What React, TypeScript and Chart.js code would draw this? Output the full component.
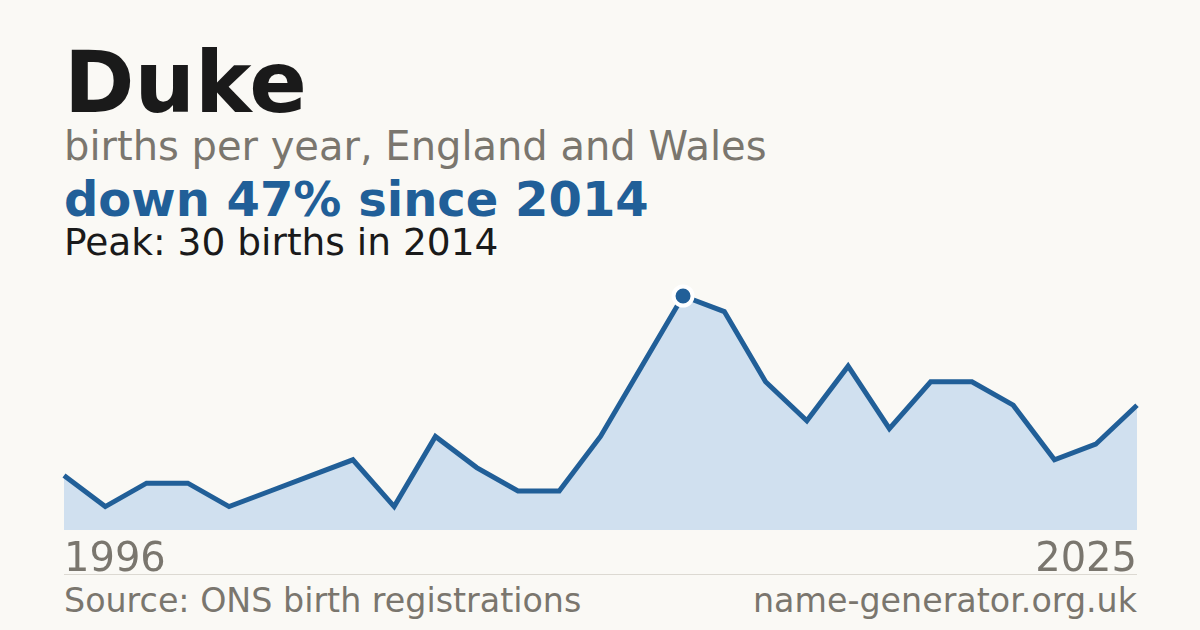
import React, { useEffect, useRef } from "react";
import { Chart, registerables } from "chart.js";

Chart.register(...registerables);

const years = [
  "1996", "1997", "1998", "1999", "2001", "2003", "2004", "2006", "2007",
  "2008", "2009", "2010", "2011", "2012", "2013", "2014", "2015", "2016",
  "2017", "2018", "2019", "2020", "2021", "2022", "2023", "2024", "2025",
];
const births = [7, 3, 6, 6, 3, 5, 7, 9, 3, 12, 8, 5, 5, 12, 21, 30, 28, 19, 14, 21, 13, 19, 19, 16, 9, 11, 16];
const peakYear = "2014";
const firstYear = "1996";
const lastYear = "2025";

const BG = "#faf9f5";
const BLUE = "#215f98";
const FILL = "#d0e0ef";
const GRAY = "#7a766e";
const FONT = "'DejaVu Sans', sans-serif";

export default function App() {
  const ref = useRef<HTMLCanvasElement | null>(null);

  useEffect(() => {
    if (!ref.current) return;
    const peakIdx = years.indexOf(peakYear);
    const chart = new Chart(ref.current, {
      type: "line",
      data: {
        labels: years,
        datasets: [
          {
            data: births,
            borderColor: BLUE,
            borderWidth: 5,
            backgroundColor: FILL,
            fill: "origin",
            tension: 0,
            clip: false as any,
            pointRadius: births.map((_, i) => (i === peakIdx ? 9.5 : 0)),
            pointHoverRadius: births.map((_, i) => (i === peakIdx ? 9.5 : 0)),
            pointBackgroundColor: BLUE,
            pointBorderColor: "#ffffff",
            pointBorderWidth: 4,
          },
        ],
      },
      options: {
        animation: false,
        responsive: false,
        maintainAspectRatio: false,
        events: [],
        layout: { padding: 12 },
        plugins: {
          legend: { display: false },
          tooltip: { enabled: false },
          title: { display: false },
        },
        scales: {
          x: { display: false, offset: false },
          y: { display: false, min: 0, max: 30 },
        },
      },
    });
    return () => chart.destroy();
  }, []);

  const base: React.CSSProperties = {
    position: "absolute",
    fontFamily: FONT,
    whiteSpace: "nowrap",
    margin: 0,
  };

  return (
    <div
      style={{
        position: "fixed",
        left: 0,
        top: 0,
        width: 1200,
        height: 630,
        background: BG,
        overflow: "hidden",
      }}
    >
      <div style={{ ...base, left: 64, top: 40, fontSize: 85, lineHeight: "85px", fontWeight: 700, color: "#1a1a1a" }}>
        Duke
      </div>
      <div style={{ ...base, left: 64, top: 126, fontSize: 40, lineHeight: "40px", color: GRAY }}>
        births per year, England and Wales
      </div>
      <div style={{ ...base, left: 64, top: 175, fontSize: 48, lineHeight: "48px", fontWeight: 700, color: BLUE }}>
        down 47% since 2014
      </div>
      <div style={{ ...base, left: 64, top: 224, fontSize: 37.5, lineHeight: "37px", color: "#1a1a1a" }}>
        Peak: 30 births in 2014
      </div>
      <canvas
        ref={ref}
        width={1097}
        height={258}
        style={{ position: "absolute", left: 52, top: 284, width: 1097, height: 258 }}
      />
      <div style={{ ...base, left: 64, top: 537, fontSize: 40, lineHeight: "40px", color: GRAY }}>
        {firstYear}
      </div>
      <div style={{ ...base, right: 63, top: 537, fontSize: 40, lineHeight: "40px", color: GRAY }}>
        {lastYear}
      </div>
      <div style={{ position: "absolute", left: 64, top: 574, width: 1073, height: 1, background: "#dcd9d2" }} />
      <div style={{ ...base, left: 64, top: 584, fontSize: 33.3, lineHeight: "33px", color: GRAY }}>
        Source: ONS birth registrations
      </div>
      <div style={{ ...base, right: 63, top: 584, fontSize: 33.3, lineHeight: "33px", color: GRAY }}>
        name-generator.org.uk
      </div>
    </div>
  );
}
